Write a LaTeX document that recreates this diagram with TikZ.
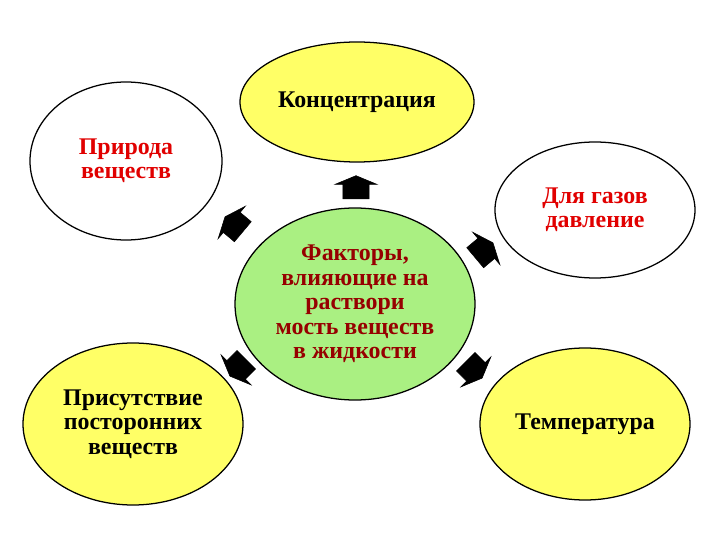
\documentclass[tikz,border=0pt]{standalone}
\usepackage{fontspec}
\setmainfont{Liberation Serif}
\usetikzlibrary{shapes.geometric}
\usetikzlibrary{shapes.arrows}
\definecolor{fyellow}{RGB}{255,255,102}
\definecolor{fgreen}{RGB}{170,240,130}
\definecolor{fred}{RGB}{225,0,0}
\definecolor{fdark}{RGB}{150,0,0}

\begin{document}
\begin{tikzpicture}[
  factor/.style={ellipse,draw=black,line width=0.9pt,align=center,inner sep=0pt,
    font=\fontsize{17}{17.4}\selectfont\bfseries},
  blockarrow/.style={single arrow,fill=black,draw=black,inner xsep=0pt,inner ysep=0.32cm,
    single arrow head extend=0.2cm,single arrow tip angle=135,minimum height=0.58cm}]
  \useasboundingbox (0,0) rectangle (18,13.5);
  \node[factor,fill=fgreen,minimum width=6cm,minimum height=4.8cm,text=fdark] (main) at (8.875,5.9)
    {Факторы,\\влияющие на\\раствори\\мость веществ\\в жидкости};
  \node[factor,fill=fyellow,minimum width=5.85cm,minimum height=3cm,text=black] (conc) at (8.925,10.95) {Концентрация};
  \node[factor,fill=white,minimum width=4.8cm,minimum height=3.95cm,text=fred] (nature) at (3.15,9.475) {Природа\\веществ};
  \node[factor,fill=white,minimum width=5cm,minimum height=3.4cm,text=fred] (gas) at (14.875,8.25) {Для газов\\давление};
  \node[factor,fill=fyellow,minimum width=5.5cm,minimum height=4.05cm,text=black] (other) at (3.325,2.9) {Присутствие\\посторонних\\веществ};
  \node[factor,fill=fyellow,minimum width=5.25cm,minimum height=3.8cm,text=black] (temp) at (14.625,2.9) {Температура};
  \node[blockarrow,rotate=90] (a1) at (8.9,8.75) {};
  \node[blockarrow,rotate=140] (a2) at (5.9,7.85) {};
  \node[blockarrow,rotate=40] (a3) at (12.05,7.2) {};
  \node[blockarrow,rotate=-45] (a4) at (11.8,4.3) {};
  \node[blockarrow,rotate=-135] (a5) at (6.0,4.35) {};
\end{tikzpicture}
\end{document}
